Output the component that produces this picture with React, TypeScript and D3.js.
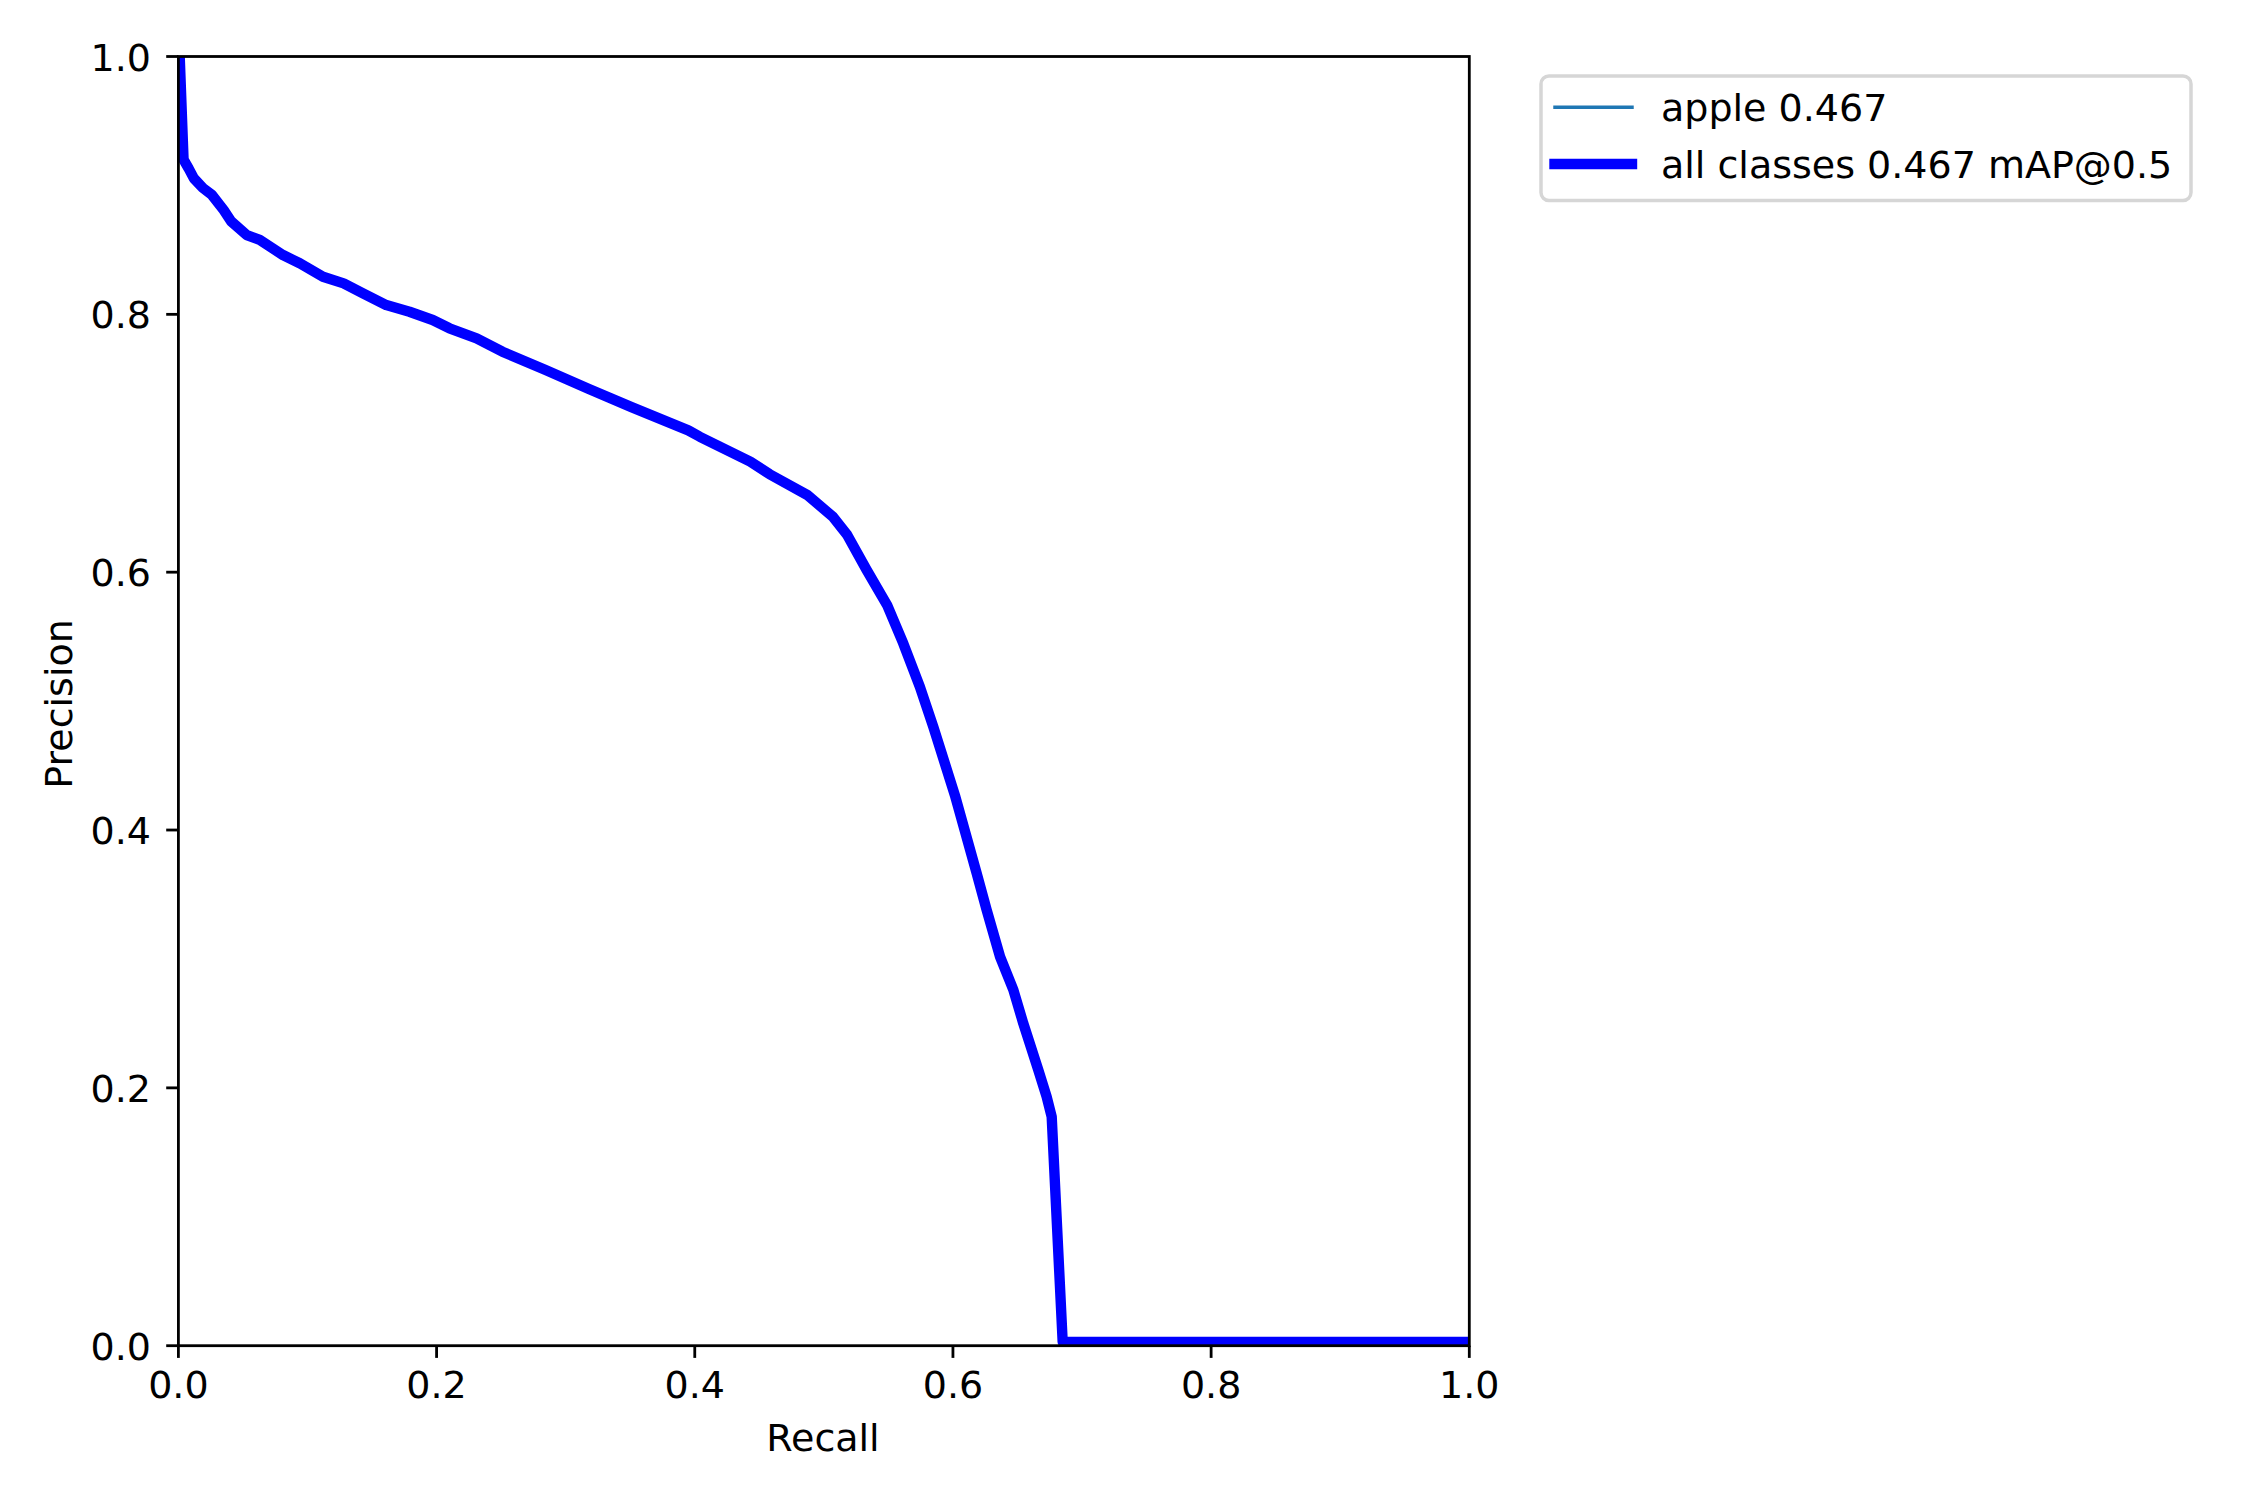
import React from "react";
import * as d3 from "d3";

const recall = [
  0.0, 0.001, 0.004, 0.008, 0.012, 0.019, 0.026, 0.035, 0.041, 0.053, 0.063,
  0.081, 0.094, 0.112, 0.128, 0.143, 0.161, 0.179, 0.197, 0.21, 0.231, 0.251,
  0.284, 0.318, 0.351, 0.395, 0.404, 0.443, 0.458, 0.487, 0.507, 0.518, 0.533,
  0.549, 0.5615, 0.5744, 0.5848, 0.6015, 0.6184, 0.6261, 0.6365, 0.6468,
  0.6545, 0.6661, 0.6726, 0.6765, 0.685, 1.0,
];
const precision = [
  1.0, 1.0, 0.92, 0.913, 0.9055, 0.898, 0.8926, 0.881, 0.872, 0.8615, 0.8577,
  0.846, 0.8396, 0.8292, 0.824, 0.8163, 0.8072, 0.802, 0.7956, 0.7892, 0.7814,
  0.771, 0.757, 0.742, 0.728, 0.71, 0.705, 0.6857, 0.676, 0.66, 0.643, 0.629,
  0.602, 0.5745, 0.5448, 0.511, 0.48, 0.427, 0.3664, 0.338, 0.3017, 0.276,
  0.25, 0.2139, 0.1931, 0.1776, 0.003, 0.003,
];
const ticks = [0, 0.2, 0.4, 0.6, 0.8, 1.0];
const legendLabels = ["apple 0.467", "all classes 0.467 mAP@0.5"];

const W = 2250;
const H = 1500;
const L = 178.4, R = 1469.3, T = 56.5, B = 1345.7;
const FONT = "DejaVu Sans";
const FS = 38;

export default function App() {
  const x = d3.scaleLinear().domain([0, 1]).range([L, R]);
  const y = d3.scaleLinear().domain([0, 1]).range([B, T]);
  const pts: [number, number][] = recall.map((r, i) => [r, precision[i]]);
  const line = d3
    .line<[number, number]>()
    .x((d) => x(d[0]))
    .y((d) => y(d[1]));
  const path = line(pts) || "";

  return (
    <svg
      width={W}
      height={H}
      style={{ position: "absolute", left: 0, top: 0, background: "#fff" }}
      fontFamily={FONT}
    >
      <rect x={0} y={0} width={W} height={H} fill="#fff" />
      <defs>
        <clipPath id="plotclip">
          <rect x={L} y={T} width={R - L} height={B - T} />
        </clipPath>
      </defs>
      <g clipPath="url(#plotclip)">
        <path d={path} fill="none" stroke="#1f77b4" strokeWidth={3.47} strokeLinejoin="round" strokeLinecap="butt" />
        <path d={path} fill="none" stroke="#0000ff" strokeWidth={10.4} strokeLinejoin="round" strokeLinecap="butt" />
      </g>
      {/* spines */}
      <rect x={L} y={T} width={R - L} height={B - T} fill="none" stroke="#000" strokeWidth={2.8} strokeLinejoin="miter" />
      {/* x ticks */}
      {ticks.map((t) => (
        <g key={"x" + t}>
          <line x1={x(t)} x2={x(t)} y1={B} y2={B + 12.2} stroke="#000" strokeWidth={2.8} />
          <text x={x(t)} y={1397.5} fontSize={FS} textAnchor="middle" fill="#000">
            {t.toFixed(1)}
          </text>
        </g>
      ))}
      {/* y ticks */}
      {ticks.map((t) => (
        <g key={"y" + t}>
          <line x1={L - 12.2} x2={L} y1={y(t)} y2={y(t)} stroke="#000" strokeWidth={2.8} />
          <text x={151} y={y(t) + 14} fontSize={FS} textAnchor="end" fill="#000">
            {t.toFixed(1)}
          </text>
        </g>
      ))}
      <text x={823} y={1451} fontSize={FS} textAnchor="middle" fill="#000">
        Recall
      </text>
      <text
        transform={`translate(71.7,704) rotate(-90)`}
        fontSize={FS}
        textAnchor="middle"
        fill="#000"
      >
        Precision
      </text>
      {/* legend */}
      <rect x={1541} y={76} width={650} height={124.5} rx={8} ry={8} fill="#fff" fillOpacity={0.8} stroke="#d6d6d6" strokeWidth={3.47} />
      <line x1={1555} x2={1632} y1={107.3} y2={107.3} stroke="#1f77b4" strokeWidth={3.47} strokeLinecap="square" />
      <text x={1661} y={120.5} fontSize={FS} fill="#000">
        {legendLabels[0]}
      </text>
      <line x1={1554.5} x2={1632} y1={164} y2={164} stroke="#0000ff" strokeWidth={10.4} strokeLinecap="square" />
      <text x={1661} y={178} fontSize={FS} fill="#000">
        {legendLabels[1]}
      </text>
    </svg>
  );
}
